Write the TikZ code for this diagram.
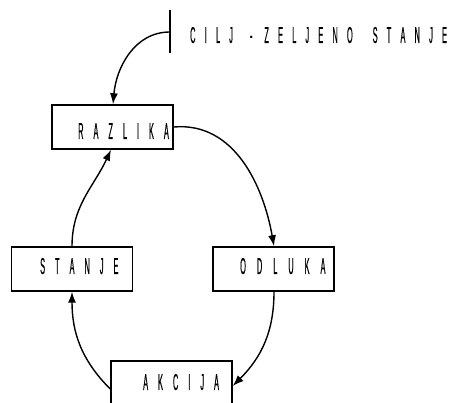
\documentclass[tikz,border=0pt]{standalone}
\usepackage{fontspec}
\usetikzlibrary{arrows.meta}
\newfontfamily\narrowfont[FakeStretch=0.32,FakeBold=0.4]{Liberation Sans}
\newcommand{\bxg}{\kern10pt}
\newcommand{\glg}{\kern9.2pt}
\newcommand{\wdg}{\kern20pt}
\tikzset{
  stagebox/.style={draw, line width=1.5pt, minimum width=121pt, minimum height=44pt, inner sep=0pt},
  stagetext/.style={anchor=base west, inner sep=0pt, font=\narrowfont\fontsize{23}{23}\selectfont},
  flow/.style={line width=1.4pt, -{Latex[length=11pt,width=8pt]}}
}
\begin{document}
\begin{tikzpicture}[x=1pt,y=1pt]
\useasboundingbox (0,0) rectangle (452,403);
% boxes (y = 403 - pixel y)
\node[stagebox] (razlika) at (112.5,276) {};
\node[stagebox] (stanje) at (72,134) {};
\node[stagebox] (odluka) at (273.5,134) {};
\node[stagebox] (akcija) at (171.5,20) {};
\node[stagetext] (razlikat) at (78,264) {R\bxg A\bxg Z\bxg L\bxg I\bxg K\bxg A};
\node[stagetext] (stanjet) at (40,129) {S\bxg T\bxg A\bxg N\bxg J\bxg E};
\node[stagetext] (odlukat) at (240,129) {O\kern11pt D\kern11pt L\kern11pt U\kern11pt K\kern11pt A};
\node[stagetext] (akcijat) at (143,13) {A\bxg K\bxg C\bxg I\bxg J\bxg A};
% goal
\coordinate (bartop) at (170,393);
\coordinate (barbot) at (170,350);
\coordinate (barmid) at (170,371);
\draw[line width=1.5pt] (bartop) -- (barbot);
\node[stagetext] (goal) at (190,360) {C\glg I\glg L\glg J\kern17pt -\kern12pt Z\glg E\glg L\glg J\glg E\glg N\glg O\wdg S\glg T\glg A\glg N\glg J\glg E};
% connectors
\draw[flow] (barmid) to[out=180,in=85] ([xshift=0.5pt]razlika.north);
\draw[flow] (razlika.east) to[out=5,in=100] ([xshift=0.5pt]odluka.north);
\draw[flow] ([xshift=0.5pt]odluka.south) to[out=-90,in=45] ([yshift=-3pt]akcija.east);
\draw[flow] ([yshift=-6pt]akcija.west) to[out=135,in=-90] (stanje.south);
\draw[flow] (stanje.north) to[out=90,in=-115] ([xshift=-1.5pt]razlika.south);
\end{tikzpicture}
\end{document}
